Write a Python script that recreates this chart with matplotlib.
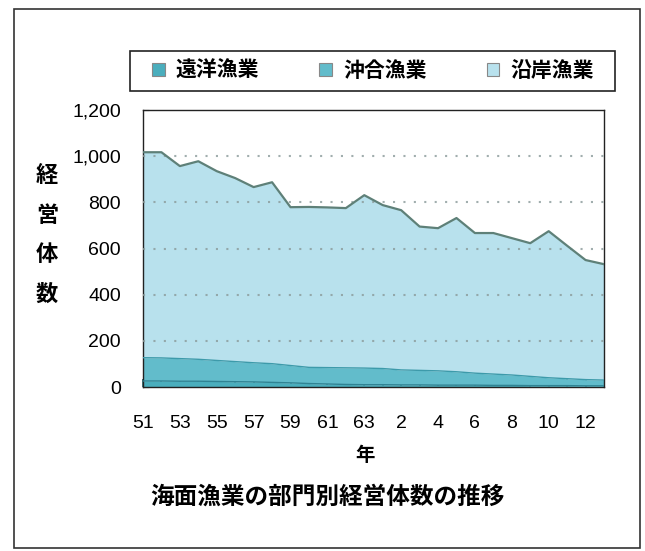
# =====================================
# Import libraries
# =====================================
import numpy as np
import matplotlib
matplotlib.use('Agg')
import matplotlib.pyplot as plt
from matplotlib.patches import Patch, Rectangle

plt.rcParams['font.family'] = ['Liberation Sans', 'Noto Sans CJK JP']

# =====================================
# Data
# =====================================
# 昭和51年 ～ 平成13年
years = ['51', '52', '53', '54', '55', '56', '57', '58', '59', '60', '61', '62', '63',
         '1', '2', '3', '4', '5', '6', '7', '8', '9', '10', '11', '12', '13']
year_labels = ['51', '', '53', '', '55', '', '57', '', '59', '', '61', '', '63',
               '', '2', '', '4', '', '6', '', '8', '', '10', '', '12', '']

enyo = [26, 26, 25, 25, 24, 23, 22, 20, 18, 15, 13, 11, 10,
        10, 9, 9, 8, 8, 8, 7, 7, 6, 6, 6, 5, 5]
okiai = [101, 100, 98, 95, 91, 87, 83, 81, 75, 70, 71, 72, 72,
         70, 65, 63, 62, 58, 52, 49, 45, 40, 34, 30, 27, 25]
engan = [890, 891, 834, 858, 820, 795, 761, 786, 686, 695, 694, 692, 749,
         708, 692, 623, 618, 666, 607, 611, 593, 577, 635, 576, 518, 502]

series_names = ['遠洋漁業', '沖合漁業', '沿岸漁業']
y_ticks = [0, 200, 400, 600, 800, 1000, 1200]

# =====================================
# Figure
# =====================================
W, H = 645, 551
fig = plt.figure(figsize=(W / 100, H / 100), dpi=100)

# outer frame of the scanned figure
fig.patches.append(Rectangle((14 / W, 1 - 548 / H), 626 / W, 539 / H,
                             transform=fig.transFigure, fill=False,
                             edgecolor='#333333', linewidth=1.2))

ax = fig.add_axes([143 / W, 1 - 387 / H, 461 / W, 277 / H])

x = np.arange(len(years))
b1 = np.array(enyo)
b2 = b1 + np.array(okiai)
b3 = b2 + np.array(engan)

c_enyo = '#4aaebd'
c_okiai = '#62bccb'
c_engan = '#b8e1ed'

ax.fill_between(x, 0, b1, color=c_enyo, linewidth=0, zorder=2)
ax.fill_between(x, b1, b2, color=c_okiai, linewidth=0, zorder=2)
ax.fill_between(x, b2, b3, color=c_engan, linewidth=0, zorder=2)
ax.plot(x, b1, color='#2f8393', linewidth=1.0, zorder=4)
ax.plot(x, b2, color='#3d9aaa', linewidth=1.0, zorder=4)
ax.plot(x, b3, color='#5e8078', linewidth=1.6, zorder=5)

# dotted gridlines
for yv in y_ticks[1:-1]:
    ax.axhline(yv, color='#8a9a9a', linestyle=(0, (1, 4)), linewidth=1.5,
               alpha=0.8, zorder=3)

ax.set_xlim(0, len(years) - 1)
ax.set_ylim(0, 1200)
ax.set_yticks(y_ticks)
ax.set_yticklabels([f'{v:,}' for v in y_ticks], fontsize=14)
ax.set_xticks(x)
ax.set_xticklabels(year_labels, fontsize=14)
ax.tick_params(axis='x', direction='in', length=6, width=1.2, pad=20, color='#1f5f68')
ax.tick_params(axis='y', direction='in', length=4, width=0.8, pad=16)
for side in ['left', 'right', 'top', 'bottom']:
    ax.spines[side].set_linewidth(1.0)
    ax.spines[side].set_color('#222222')

# axis labels
fig.text(47 / W, 1 - 236 / H, '経\n営\n体\n数', ha='center', va='center',
         fontsize=16, fontweight='bold', linespacing=2.15)
fig.text(365 / W, 1 - 456 / H, '年', ha='center', va='center',
         fontsize=14, fontweight='bold')
fig.text(327 / W, 1 - 497 / H, '海面漁業の部門別経営体数の推移', ha='center',
         va='center', fontsize=17, fontweight='bold')

# legend (frame drawn separately so its size matches the reference)
fig.patches.append(Rectangle((130 / W, 1 - 91 / H), 485 / W, 40 / H,
                             transform=fig.transFigure, fill=False,
                             edgecolor='#222222', linewidth=1.2))
handles = [Patch(facecolor=c, edgecolor='#888888', linewidth=0.8)
           for c in [c_enyo, c_okiai, c_engan]]
leg = fig.legend(handles, series_names, loc='center left',
                 bbox_to_anchor=(152 / W, 1 - 71 / H, 442 / W, 0),
                 mode='expand', ncol=3, frameon=False, borderaxespad=0,
                 borderpad=0, handlelength=0.6, handleheight=0.6,
                 handletextpad=0.55,
                 prop={'size': 15, 'weight': 'bold'})

plt.savefig('out.png', dpi=100)
